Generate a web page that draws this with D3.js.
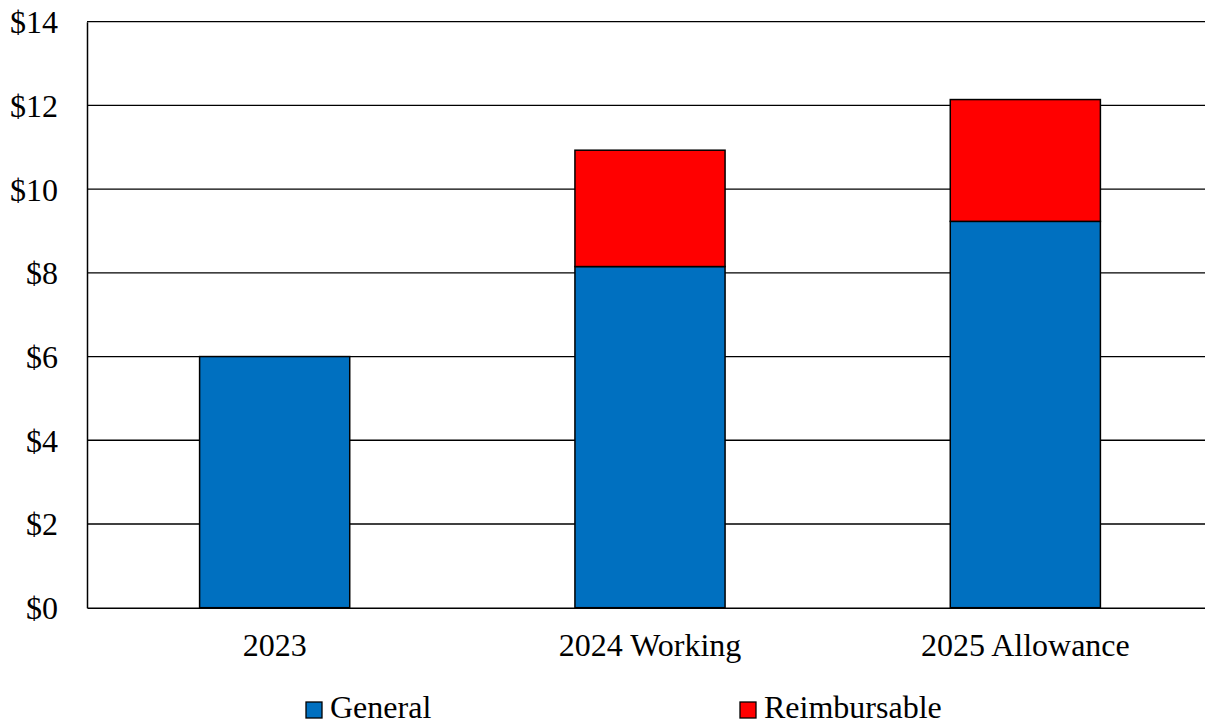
<!DOCTYPE html>
<html><head><meta charset="utf-8">
<script src="https://cdn.jsdelivr.net/npm/d3@7"></script>
<style>body{margin:0;background:#fff}svg{display:block}text{font-family:"Liberation Serif","Times New Roman",serif;fill:#000}</style>
</head><body><svg id="c" width="1205" height="723"></svg>
<script>
const categories = ["2023", "2024 Working", "2025 Allowance"];
const general = [6.0, 8.15, 9.23];
const reimbursable = [0, 2.78, 2.91];
const seriesNames = ["General", "Reimbursable"];
const seriesColors = ["#0070C0", "#FF0000"];
const yTicks = [0, 2, 4, 6, 8, 10, 12, 14];

const svg = d3.select("#c");
const mLeft = 87, mRight = 1213, mTop = 21.7, mBottom = 607.7;
const x = d3.scaleBand().domain(categories).range([mLeft, mRight]).paddingInner(0.6).paddingOuter(0.3);
const y = d3.scaleLinear().domain([0, 14]).range([mBottom, mTop]);

// gridlines
svg.append("g").selectAll("line").data(yTicks.filter(d => d > 0)).join("line")
  .attr("x1", mLeft).attr("x2", mRight).attr("y1", d => y(d)).attr("y2", d => y(d))
  .attr("stroke", "#000").attr("stroke-width", 1.3);

const rows = categories.map((c, i) => ({cat: c, General: general[i], Reimbursable: reimbursable[i]}));
const stack = d3.stack().keys(seriesNames)(rows);
svg.append("g").selectAll("g").data(stack).join("g")
  .attr("fill", (d, i) => seriesColors[i])
  .selectAll("rect").data(d => d.filter(p => p[1] - p[0] > 0)).join("rect")
  .attr("x", d => x(d.data.cat)).attr("width", x.bandwidth())
  .attr("y", d => y(d[1])).attr("height", d => y(d[0]) - y(d[1]))
  .attr("stroke", "#000").attr("stroke-width", 1.5);

// axes
const yAxis = svg.append("g").attr("transform", `translate(${mLeft},0)`)
  .call(d3.axisLeft(y).tickValues(yTicks).tickSize(0).tickPadding(29).tickFormat(d => "$" + d));
yAxis.select(".domain").attr("stroke", "#000").attr("stroke-width", 1.5);
yAxis.selectAll("text").style("font-size", "32px").attr("dy", "0.34em");

const xAxis = svg.append("g").attr("transform", `translate(0,${mBottom})`)
  .call(d3.axisBottom(x).tickSize(0).tickPadding(24));
xAxis.select(".domain").attr("stroke", "#000").attr("stroke-width", 1.5);
xAxis.selectAll("text").style("font-size", "32px").attr("dy", "0.75em");

// legend
const legendX = [306, 740];
const lg = svg.append("g").selectAll("g").data(seriesNames).join("g")
  .attr("transform", (d, i) => `translate(${legendX[i]},702)`);
lg.append("rect").attr("width", 16).attr("height", 16)
  .attr("fill", (d, i) => seriesColors[i]).attr("stroke", "#000").attr("stroke-width", 1.3);
lg.append("text").attr("x", 24).attr("y", 16).style("font-size", "32px").text(d => d);
</script></body></html>
